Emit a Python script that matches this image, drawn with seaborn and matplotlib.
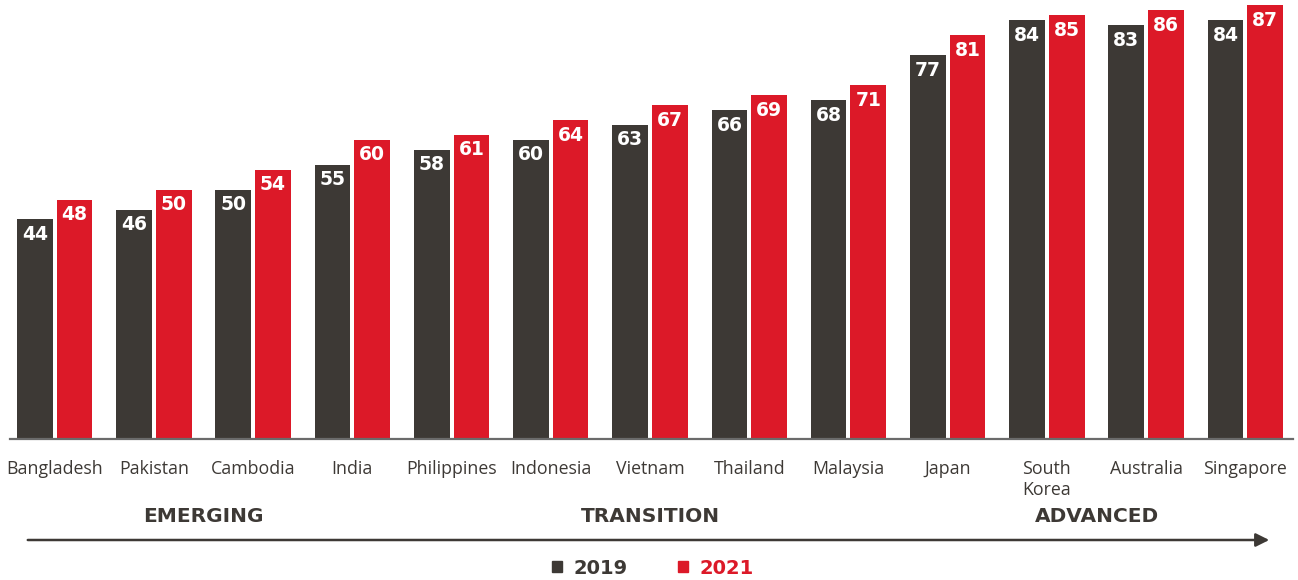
import pandas as pd
import seaborn as sns
import matplotlib.pyplot as plt
from matplotlib.transforms import blended_transform_factory

# Data
countries = ['Bangladesh', 'Pakistan', 'Cambodia', 'India', 'Philippines', 'Indonesia',
             'Vietnam', 'Thailand', 'Malaysia', 'Japan', 'South\nKorea', 'Australia', 'Singapore']
v2019 = [44, 46, 50, 55, 58, 60, 63, 66, 68, 77, 84, 83, 84]
v2021 = [48, 50, 54, 60, 61, 64, 67, 69, 71, 81, 85, 86, 87]
years = ['2019', '2021']
stages = ['EMERGING', 'TRANSITION', 'ADVANCED']
stage_pos = [1.5, 6.0, 10.5]

DARK = '#3d3935'
RED = '#dc1928'

df = pd.DataFrame({
    'Country': countries * 2,
    'Value': v2019 + v2021,
    'Year': [years[0]] * len(countries) + [years[1]] * len(countries),
})

sns.set_style('white')
plt.rcParams['font.family'] = ['Open Sans', 'DejaVu Sans']

fig = plt.figure(figsize=(12.98, 5.8), dpi=100)
ax = fig.add_axes([10 / 1298, 141 / 580, 1283 / 1298, 439 / 580])

sns.barplot(data=df, x='Country', y='Value', hue='Year', palette=[DARK, RED],
            width=0.8, gap=0.1, saturation=1, linewidth=0, ax=ax, legend=False)

ax.set_ylim(0, 88)
ax.set_xlim(-0.45, 12.48)
ax.set_xlabel('')
ax.set_ylabel('')
ax.set_yticks([])
for s in ['top', 'left', 'right']:
    ax.spines[s].set_visible(False)
ax.spines['bottom'].set_color('#6b6b6b')
ax.spines['bottom'].set_linewidth(1.6)
ax.tick_params(axis='x', length=0, pad=15, labelsize=12.8, labelcolor=DARK)

# value labels inside the bar tops
for cont in ax.containers:
    for p in cont:
        ax.annotate(f'{p.get_height():.0f}', (p.get_x() + p.get_width() / 2, p.get_height()),
                    xytext=(0, -11), textcoords='offset points', ha='center', va='center',
                    color='white', fontsize=13.5, fontweight='bold', family='DejaVu Sans')

# development stage labels and arrow
tr = blended_transform_factory(ax.transData, fig.transFigure)
for name, x in zip(stages, stage_pos):
    ax.text(x, 1 - 516 / 580, name, transform=tr, ha='center', va='center',
            fontsize=14.5, fontweight='bold', color=DARK, family='DejaVu Sans')

ax.annotate('', xy=(1272, 40), xytext=(25, 40), xycoords='figure pixels',
            textcoords='figure pixels',
            arrowprops=dict(arrowstyle='-|>', color=DARK, lw=1.8, mutation_scale=20))

# legend
handles = [plt.Rectangle((0, 0), 1, 1, color=c) for c in [DARK, RED]]
fig.legend(handles, years, loc='center', bbox_to_anchor=(0.503, 1 - 568 / 580), ncol=2,
           frameon=False, handlelength=0.5, handleheight=0.5, handletextpad=0.6,
           columnspacing=2.6, labelcolor=[DARK, RED],
           prop={'family': 'DejaVu Sans', 'weight': 'bold', 'size': 14})

fig.savefig('out.png', dpi=100)
